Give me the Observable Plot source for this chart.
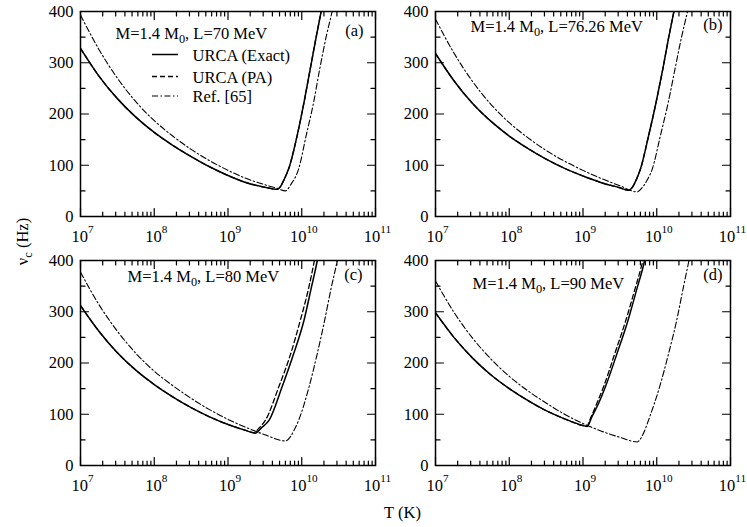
<!DOCTYPE html>
<html><head><meta charset="utf-8">
<script src="https://cdn.jsdelivr.net/npm/d3@7"></script>
<script src="https://cdn.jsdelivr.net/npm/@observablehq/plot@0.6"></script>
<style>
body{margin:0;background:#fff;}
#chart svg{display:block}
</style></head><body><div id="chart"></div>
<script>
// ---------------- data ----------------
const panelTitles = ["M=1.4 M_{0}, L=70 MeV", "M=1.4 M_{0}, L=76.26 MeV", "M=1.4 M_{0}, L=80 MeV", "M=1.4 M_{0}, L=90 MeV"];
const panelTags = ["(a)", "(b)", "(c)", "(d)"];
const seriesNames = ["URCA (Exact)", "URCA (PA)", "Ref. [65]"];

const xMajor = [1e7, 1e8, 1e9, 1e10, 1e11];
const yMajor = [0, 100, 200, 300, 400];
const yMinor = [50, 150, 250, 350];

// log10(T/K) and nu_c (Hz)
const a_exact_logT = [7.0, 7.25, 7.5, 7.75, 8.0, 8.25, 8.5, 8.75, 9.0, 9.25, 9.5, 9.667, 9.71, 9.76, 9.825, 9.938, 10.03, 10.11, 10.19, 10.27, 10.33];
const a_exact_nu   = [328, 274, 230, 194, 164, 139, 117, 97, 80, 66, 57, 53, 58, 72, 94, 158, 222, 284, 346, 405, 450];
const a_pa_logT    = [7.0, 7.25, 7.5, 7.75, 8.0, 8.25, 8.5, 8.75, 9.0, 9.25, 9.5, 9.667, 9.71, 9.76, 9.825, 9.938, 10.03, 10.11, 10.19, 10.27, 10.33];
const a_pa_nu      = [328, 274, 230, 194, 164, 139, 117, 97, 80, 66, 57, 53, 58, 72, 94, 158, 222, 284, 346, 405, 450];
const a_ref_logT   = [7.0, 7.25, 7.5, 7.75, 8.0, 8.25, 8.5, 8.75, 9.0, 9.25, 9.5, 9.667, 9.78, 9.85, 9.96, 10.06, 10.16, 10.24, 10.33, 10.42, 10.47];
const a_ref_nu     = [393, 326, 270, 224, 187, 157, 131, 109, 90, 74, 62, 55, 50, 62, 94, 158, 222, 285, 350, 405, 440];

const b_exact_logT = [7.0, 7.25, 7.5, 7.75, 8.0, 8.25, 8.5, 8.75, 9.0, 9.25, 9.5, 9.62, 9.67, 9.72, 9.78, 9.89, 9.99, 10.08, 10.16, 10.24, 10.29];
const b_exact_nu   = [318, 265, 221, 186, 157, 133, 112, 94, 79, 66, 56, 51, 57, 71, 93, 158, 222, 286, 348, 405, 440];
const b_pa_logT    = [7.0, 7.25, 7.5, 7.75, 8.0, 8.25, 8.5, 8.75, 9.0, 9.25, 9.5, 9.62, 9.67, 9.72, 9.78, 9.89, 9.99, 10.08, 10.16, 10.24, 10.29];
const b_pa_nu      = [318, 265, 221, 186, 157, 133, 112, 94, 79, 66, 56, 51, 57, 71, 93, 158, 222, 286, 348, 405, 440];
const b_ref_logT   = [7.0, 7.25, 7.5, 7.75, 8.0, 8.25, 8.5, 8.75, 9.0, 9.25, 9.5, 9.735, 9.8, 9.87, 9.94, 10.05, 10.155, 10.245, 10.336, 10.425, 10.47];
const b_ref_nu     = [385, 319, 264, 219, 183, 154, 129, 108, 90, 74, 60, 48, 56, 71, 93, 158, 222, 286, 350, 405, 435];

const c_exact_logT = [7.0, 7.25, 7.5, 7.75, 8.0, 8.25, 8.5, 8.75, 9.0, 9.25, 9.37, 9.45, 9.56, 9.735, 9.89, 10.03, 10.13, 10.21, 10.25];
const c_exact_nu   = [312, 262, 220, 186, 158, 134, 113, 95, 80, 68, 63, 73, 89, 154, 218, 283, 347, 399, 430];
const c_pa_logT    = [7.0, 7.25, 7.5, 7.75, 8.0, 8.25, 8.5, 8.75, 9.0, 9.25, 9.35, 9.42, 9.51, 9.69, 9.85, 9.98, 10.095, 10.17, 10.21];
const c_pa_nu      = [312, 262, 220, 186, 158, 134, 113, 95, 80, 68, 64, 73, 89, 154, 218, 283, 347, 399, 430];
const c_ref_logT   = [7.0, 7.25, 7.5, 7.75, 8.0, 8.25, 8.5, 8.75, 9.0, 9.25, 9.5, 9.78, 9.85, 9.9, 9.96, 10.10, 10.21, 10.31, 10.40, 10.48, 10.52];
const c_ref_nu     = [377, 314, 262, 219, 184, 156, 131, 109, 90, 74, 60, 48, 57, 70, 89, 154, 218, 283, 347, 399, 430];

const d_exact_logT = [7.0, 7.25, 7.5, 7.75, 8.0, 8.25, 8.5, 8.75, 9.0, 9.057, 9.12, 9.214, 9.305, 9.46, 9.61, 9.735, 9.834, 9.87];
const d_exact_nu   = [298, 250, 210, 177, 150, 127, 107, 91, 78, 76, 95, 122, 154, 218, 283, 347, 399, 425];
const d_pa_logT    = [7.0, 7.25, 7.5, 7.75, 8.0, 8.25, 8.5, 8.75, 9.0, 9.05, 9.11, 9.19, 9.28, 9.43, 9.58, 9.71, 9.81, 9.85];
const d_pa_nu      = [298, 250, 210, 177, 150, 127, 107, 91, 78, 77, 95, 122, 154, 218, 283, 347, 399, 425];
const d_ref_logT   = [7.0, 7.25, 7.5, 7.75, 8.0, 8.25, 8.5, 8.75, 9.0, 9.25, 9.5, 9.735, 9.8, 9.86, 9.89, 10.04, 10.16, 10.27, 10.36, 10.435, 10.47];
const d_ref_nu     = [360, 299, 249, 208, 174, 146, 122, 100, 82, 67, 55, 46, 57, 77, 89, 154, 218, 283, 347, 399, 425];

// ---------------- assemble ----------------
const curves = [
  [0, 0, a_exact_logT, a_exact_nu], [0, 1, a_pa_logT, a_pa_nu], [0, 2, a_ref_logT, a_ref_nu],
  [1, 0, b_exact_logT, b_exact_nu], [1, 1, b_pa_logT, b_pa_nu], [1, 2, b_ref_logT, b_ref_nu],
  [2, 0, c_exact_logT, c_exact_nu], [2, 1, c_pa_logT, c_pa_nu], [2, 2, c_ref_logT, c_ref_nu],
  [3, 0, d_exact_logT, d_exact_nu], [3, 1, d_pa_logT, d_pa_nu], [3, 2, d_ref_logT, d_ref_nu]
];
const rows = curves.flatMap(([p, s, lt, nu]) => lt.map((e, i) => ({
  panel: p, fx: p % 2, fy: Math.floor(p / 2), series: seriesNames[s], T: Math.pow(10, e), nu: nu[i]
})));
const xMinor = [];
for (let i = 0; i < xMajor.length - 1; i++) for (let k = 2; k <= 9; k++) xMinor.push(k * xMajor[i]);

// ---------------- layout / style ----------------
const W = 747, H = 527;
const M = {left: 80, right: 17, top: 11, bottom: 62};
const gapX = 60, gapY = 44;
const panelW = (W - M.left - M.right - gapX) / 2;   // 295
const panelH = (H - M.top - M.bottom - gapY) / 2;   // 205
const FS = 16.5;
const FONT = "'Liberation Serif', 'Times New Roman', Times, serif";
const majLen = 8, minLen = 4.5;
const yDomain = [0, 400], xDomain = [1e7, 1e11];
const yPerPx = (yDomain[1] - yDomain[0]) / panelH;
const xDecPerPx = Math.log10(xDomain[1] / xDomain[0]) / panelW;
const styles = {
  "URCA (Exact)": {strokeDasharray: null, strokeWidth: 1.5},
  "URCA (PA)": {strokeDasharray: "5,3", strokeWidth: 1.3},
  "Ref. [65]": {strokeDasharray: "6,2.5,1.5,2.5", strokeWidth: 1.1}
};
const titleOff = [[35, 27], [35, 20], [47, 21], [37, 28]];
const tagOff = [[-12, 24], [-8, 18], [-13, 19.5], [-8, 19.5]];
const legendRows = [43, 65, 84.5]; // px below panel top

// inward tick segments (two points each), built per panel from the tick arrays
const tickSegs = [];
let segId = 0;
for (let p = 0; p < 4; p++) {
  const fx = p % 2, fy = Math.floor(p / 2);
  const add = (pts) => { segId++; for (const [T, nu] of pts) tickSegs.push({fx, fy, id: segId, T, nu}); };
  for (const [vals, len] of [[xMajor, majLen], [xMinor, minLen]]) {
    for (const v of vals) {
      add([[v, yDomain[0]], [v, yDomain[0] + len * yPerPx]]);
      add([[v, yDomain[1] - len * yPerPx], [v, yDomain[1]]]);
    }
  }
  for (const [vals, len] of [[yMajor, majLen], [yMinor, minLen]]) {
    const f = Math.pow(10, len * xDecPerPx);
    for (const v of vals) {
      add([[xDomain[0], v], [xDomain[0] * f, v]]);
      add([[xDomain[1] / f, v], [xDomain[1], v]]);
    }
  }
}

const marks = [];
// curves: dashed first, then dash-dot, then solid on top
for (const s of ["URCA (PA)", "Ref. [65]", "URCA (Exact)"]) {
  marks.push(Plot.line(rows.filter(r => r.series === s), {
    x: "T", y: "nu", fx: "fx", fy: "fy", z: "panel",
    stroke: "black", curve: "monotone-x", clip: true, ...styles[s]
  }));
}
// frame and inward ticks
marks.push(Plot.frame({stroke: "black", strokeWidth: 1.5}));
marks.push(Plot.line(tickSegs, {x: "T", y: "nu", z: "id", fx: "fx", fy: "fy", stroke: "black", strokeWidth: 1.2, curve: "linear"}));
// tick labels
marks.push(Plot.text(yMajor, {y: d => d, text: d => String(d), frameAnchor: "left", textAnchor: "end", dx: -7, fontSize: FS, fill: "black"}));
marks.push(Plot.text(xMajor, {x: d => d, text: d => `10^{${Math.round(Math.log10(d))}}`, frameAnchor: "bottom", lineAnchor: "bottom", dy: 25, dx: 2, fontSize: FS, fill: "black"}));
// panel titles & tags
panelTitles.forEach((t, p) => {
  marks.push(Plot.text([{fx: p % 2, fy: Math.floor(p / 2), text: t}], {fx: "fx", fy: "fy", text: "text", frameAnchor: "top-left", textAnchor: "start", lineAnchor: "bottom", dx: titleOff[p][0], dy: titleOff[p][1], fontSize: FS, fill: "black"}));
  marks.push(Plot.text([{fx: p % 2, fy: Math.floor(p / 2), text: panelTags[p]}], {fx: "fx", fy: "fy", text: "text", frameAnchor: "top-right", textAnchor: "end", lineAnchor: "bottom", dx: tagOff[p][0], dy: tagOff[p][1], fontSize: FS, fill: "black"}));
});
// legend (panel a)
seriesNames.forEach((s, i) => {
  marks.push(Plot.ruleY([{fx: 0, fy: 0}], {fx: "fx", fy: "fy", y: () => yDomain[1], dy: legendRows[i], insetLeft: 72, insetRight: panelW - 98, stroke: "black", ...styles[s]}));
  marks.push(Plot.text([{fx: 0, fy: 0, text: s}], {fx: "fx", fy: "fy", text: "text", frameAnchor: "top-left", textAnchor: "start", lineAnchor: "bottom", dx: 112, dy: legendRows[i] + 6, fontSize: FS, fill: "black"}));
});
// axis titles
marks.push(Plot.text([{fx: 0, fy: 0, text: "ν_{c} (Hz)"}], {fx: "fx", fy: "fy", text: "text", frameAnchor: "bottom-left", rotate: -90, textAnchor: "middle", lineAnchor: "middle", dx: -58, dy: 25, fontSize: FS, fill: "black"}));
marks.push(Plot.text([{fx: 0, fy: 1, text: "T (K)"}], {fx: "fx", fy: "fy", text: "text", frameAnchor: "bottom-right", textAnchor: "middle", lineAnchor: "bottom", dx: 27, dy: 52, fontSize: FS, fill: "black"}));

const svg = Plot.plot({
  width: W, height: H,
  marginLeft: M.left, marginRight: M.right, marginTop: M.top, marginBottom: M.bottom,
  x: {type: "log", domain: xDomain, axis: null},
  y: {domain: yDomain, axis: null},
  fx: {domain: [0, 1], paddingInner: gapX / (panelW + gapX), paddingOuter: 0, axis: null, round: false},
  fy: {domain: [0, 1], paddingInner: gapY / (panelH + gapY), paddingOuter: 0, axis: null, round: false},
  style: {fontFamily: FONT, fontSize: FS + "px", color: "black", background: "white"},
  marks
});

// rich text: ^{..} superscript, _{..} subscript
function richify(root) {
  root.querySelectorAll("text").forEach(t => {
    const s = t.textContent;
    if (!/[_^]\{/.test(s)) return;
    const parts = s.split(/([_^]\{[^}]*\})/).filter(p => p !== "");
    t.textContent = "";
    let cur = 0;
    for (const p of parts) {
      const ts = document.createElementNS("http://www.w3.org/2000/svg", "tspan");
      const m = p.match(/^([_^])\{([^}]*)\}$/);
      let target = 0;
      if (m) {
        ts.textContent = m[2];
        if (m[1] === "^") { ts.setAttribute("font-size", "68%"); target = -9; }
        else { ts.setAttribute("font-size", "75%"); target = 4; }
      } else ts.textContent = p;
      if (target !== cur) ts.setAttribute("dy", String(target - cur));
      cur = target;
      t.appendChild(ts);
    }
  });
}
richify(svg);
document.getElementById("chart").appendChild(svg);
</script>
</body></html>
